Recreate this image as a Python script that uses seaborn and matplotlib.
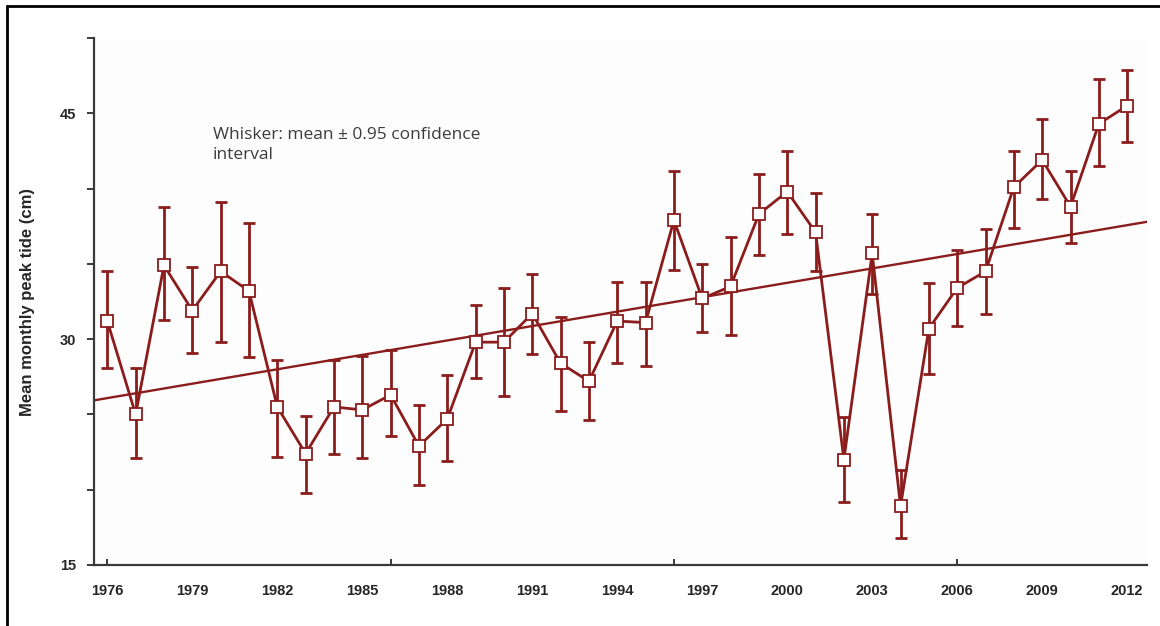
import numpy as np
import pandas as pd
import matplotlib
matplotlib.use("Agg")
import matplotlib.pyplot as plt
from matplotlib.lines import Line2D
import seaborn as sns

# ---- data ----
years = list(range(1976, 2013))
means = [31.2, 25.0, 34.9, 31.9, 34.5, 33.2, 25.5, 22.4, 25.5, 25.3,
         26.3, 22.9, 24.7, 29.8, 29.8, 31.7, 28.4, 27.2, 31.2, 31.1,
         37.9, 32.7, 33.5, 38.3, 39.8, 37.1, 22.0, 35.7, 18.9, 30.7,
         33.4, 34.5, 40.1, 41.9, 38.8, 44.3, 45.5]
ci_upper = [34.5, 28.1, 38.8, 34.8, 39.1, 37.7, 28.6, 24.9, 28.6, 28.9,
            29.3, 25.6, 27.6, 32.3, 33.4, 34.3, 31.5, 29.8, 33.8, 33.8,
            41.2, 35.0, 36.8, 41.0, 42.5, 39.7, 24.8, 38.3, 21.3, 33.7,
            35.9, 37.3, 42.5, 44.6, 41.2, 47.3, 47.9]
ci_lower = [28.1, 22.1, 31.3, 29.1, 29.8, 28.8, 22.2, 19.8, 22.4, 22.1,
            23.6, 20.3, 21.9, 27.4, 26.2, 29.0, 25.2, 24.6, 28.4, 28.2,
            34.6, 30.5, 30.3, 35.6, 37.0, 34.5, 19.2, 33.0, 16.8, 27.7,
            30.9, 31.7, 37.4, 39.3, 36.4, 41.5, 43.1]
x_tick_years = [1976, 1979, 1982, 1985, 1988, 1991, 1994, 1997, 2000, 2003, 2006, 2009, 2012]
x_mark_years = [1976, 1986, 1996, 2006]
y_ticks = [15, 20, 25, 30, 35, 40, 45, 50]
y_tick_labels = ["15", "", "", "30", "", "", "45", ""]
y_label = "Mean monthly peak tide (cm)"
note = "Whisker: mean \u00b1 0.95 confidence\ninterval"

df = pd.DataFrame({"year": years, "mean": means, "upper": ci_upper, "lower": ci_lower})

sns.set_style("ticks")
plt.rcParams["font.family"] = ["Liberation Sans", "DejaVu Sans"]

RED = "#8b1c1c"
AX = "#3a3a3a"

W, H = 1160, 626
fig = plt.figure(figsize=(W / 100, H / 100), dpi=100)
ax = fig.add_axes([94 / W, 61 / H, (1147 - 94) / W, (588 - 61) / H])
ax.set_facecolor("#fdfdfd")

ax.set_xlim(1975.53, 2012.7)
ax.set_ylim(15, 50)

# trend line (linear regression of the means)
sns.regplot(data=df, x="year", y="mean", scatter=False, ci=None, truncate=False,
            line_kws=dict(color=RED, lw=1.7, zorder=2), ax=ax)

# whiskers
ax.errorbar(df["year"], df["mean"],
            yerr=[df["mean"] - df["lower"], df["upper"] - df["mean"]],
            fmt="none", ecolor=RED, elinewidth=2.0, capsize=4, capthick=2.0, zorder=3)

# mean line with square markers
sns.lineplot(data=df, x="year", y="mean", color=RED, lw=2.0, marker="s",
             markersize=8, markerfacecolor="white", markeredgecolor=RED,
             markeredgewidth=1.3, zorder=4, ax=ax)

ax.set_xlim(1975.53, 2012.7)
ax.set_ylim(15, 50)

# spines
for s in ["top", "right"]:
    ax.spines[s].set_visible(False)
for s in ["left", "bottom"]:
    ax.spines[s].set_color(AX)
    ax.spines[s].set_linewidth(1.6)

# y ticks
ax.set_yticks(y_ticks)
ax.set_yticklabels(y_tick_labels, fontweight="bold", fontsize=10.5)
ax.tick_params(axis="y", direction="out", length=5, width=1.4, color=AX, pad=8)

# x ticks: labels every 3 years, small inward marks every 10 years
ax.xaxis.remove_overlapping_locs = False
ax.set_xticks(x_tick_years)
ax.set_xticklabels([str(y) for y in x_tick_years], fontweight="bold", fontsize=10.5)
ax.tick_params(axis="x", which="major", length=0, pad=14)
ax.set_xticks(x_mark_years, minor=True)
ax.tick_params(axis="x", which="minor", direction="in", length=4, width=1.4, color=AX)

ax.set_xlabel("")
ax.set_ylabel(y_label, fontweight="bold", fontsize=12, labelpad=18)

ax.text(213 / W, 1 - 145 / H, note, transform=fig.transFigure, fontsize=12.5,
        color="#3c3c3c", family=["Open Sans", "DejaVu Sans"], va="center",
        ha="left", linespacing=1.4)

# outer frame (left and top edges)
fig.add_artist(Line2D([7 / W, 7 / W], [0, 1 - 6 / H], transform=fig.transFigure,
                      color="black", lw=2))
fig.add_artist(Line2D([7 / W, 1], [1 - 6 / H, 1 - 6 / H], transform=fig.transFigure,
                      color="black", lw=2))

fig.savefig("out.png", dpi=100)
